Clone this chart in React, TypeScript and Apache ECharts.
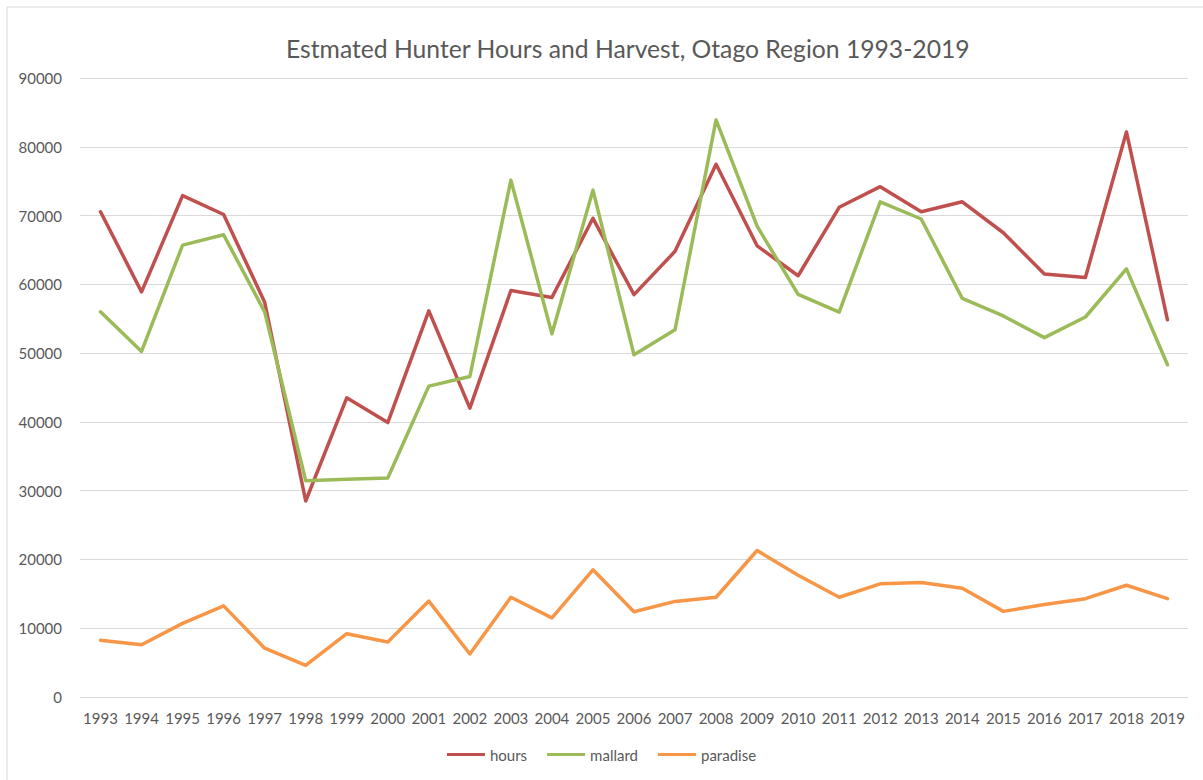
import React, { useEffect, useRef } from "react";
import * as echarts from "echarts";

const years = [
  "1993", "1994", "1995", "1996", "1997", "1998", "1999", "2000", "2001", "2002",
  "2003", "2004", "2005", "2006", "2007", "2008", "2009", "2010", "2011", "2012",
  "2013", "2014", "2015", "2016", "2017", "2018", "2019",
];

const hours = [
  70550, 58900, 72900, 70150, 57400, 28500, 43500, 39900, 56150, 42000,
  59100, 58100, 69600, 58500, 64800, 77450, 65600, 61250, 71200, 74200,
  70550, 72000, 67500, 61500, 61000, 82150, 54850,
];

const mallard = [
  56000, 50250, 65700, 67200, 56000, 31450, 31650, 31850, 45200, 46600,
  75150, 52800, 73700, 49750, 53400, 83900, 68450, 58550, 55950, 72000,
  69500, 57950, 55400, 52250, 55250, 62250, 48300,
];

const paradise = [
  8250, 7600, 10700, 13250, 7100, 4600, 9200, 8000, 13950, 6250,
  14500, 11500, 18500, 12400, 13900, 14500, 21300, 17700, 14500, 16450,
  16650, 15800, 12450, 13450, 14300, 16250, 14300,
];

const yTicks = { min: 0, max: 90000, interval: 10000 };

const seriesNames = ["hours", "mallard", "paradise"];
const seriesColors = ["#C0504D", "#9BBB59", "#F79646"];

export default function App() {
  const ref = useRef<HTMLDivElement>(null);

  useEffect(() => {
    document.body.style.margin = "0";
    const chart = echarts.init(ref.current!, null, { renderer: "svg" });
    const font = "Lato, 'Open Sans', sans-serif";
    const dataSets = [hours, mallard, paradise];
    chart.setOption({
      animation: false,
      backgroundColor: "#ffffff",
      textStyle: { fontFamily: font },
      title: {
        text: "Estmated Hunter Hours and Harvest, Otago Region 1993-2019",
        left: 281,
        top: 31,
        textStyle: {
          fontFamily: font,
          fontSize: 24.7,
          fontWeight: "normal",
          color: "#595959",
        },
      },
      graphic: [
        {
          type: "rect",
          shape: { x: 7, y: 7, width: 1400, height: 1000 },
          style: { fill: "none", stroke: "#d9d9d9", lineWidth: 1 },
          silent: true,
          z: -10,
        },
      ],
      legend: {
        bottom: 13,
        left: "center",
        icon: "rect",
        itemWidth: 38,
        itemHeight: 3,
        itemGap: 20,
        data: seriesNames,
        textStyle: { fontFamily: font, fontSize: 15, color: "#595959" },
      },
      grid: { left: 80, right: 15, top: 78, bottom: 83 },
      xAxis: {
        type: "category",
        data: years,
        boundaryGap: true,
        axisLine: { lineStyle: { color: "#d9d9d9", width: 1 } },
        axisTick: { show: false },
        axisLabel: {
          color: "#595959",
          fontSize: 15,
          margin: 13,
          interval: 0,
          fontFamily: font,
        },
      },
      yAxis: {
        type: "value",
        min: yTicks.min,
        max: yTicks.max,
        interval: yTicks.interval,
        axisLine: { show: false },
        axisTick: { show: false },
        axisLabel: {
          color: "#595959",
          fontSize: 15,
          margin: 18,
          fontFamily: font,
          formatter: (v: number) => String(v),
        },
        splitLine: { lineStyle: { color: "#d9d9d9", width: 1 } },
      },
      series: seriesNames.map((name, i) => ({
        name,
        type: "line",
        data: dataSets[i],
        showSymbol: false,
        symbol: "none",
        color: seriesColors[i],
        lineStyle: { width: 3.5, color: seriesColors[i], cap: "round", join: "round" },
      })),
    });
    return () => chart.dispose();
  }, []);

  return <div ref={ref} style={{ width: 1203, height: 780 }} />;
}
